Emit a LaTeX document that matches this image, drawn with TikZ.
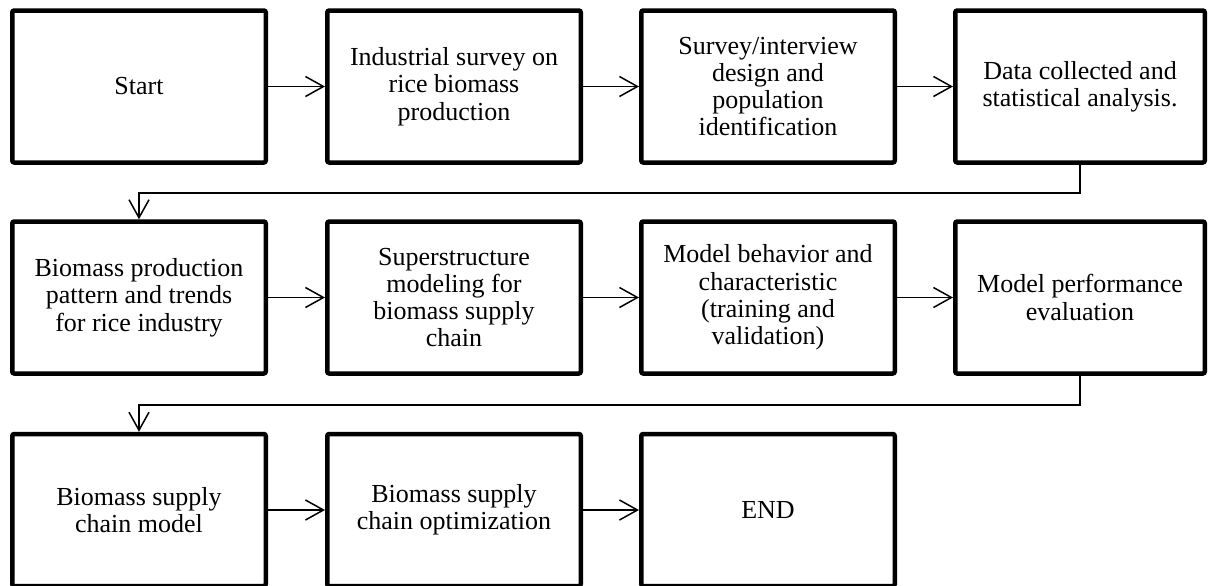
\documentclass[tikz,border=0pt]{standalone}
\usepackage{fontspec}
\setmainfont{Liberation Serif}
\usetikzlibrary{arrows.meta}
\begin{document}
\begin{tikzpicture}[x=0.5pt,y=-0.5pt,
 box/.style={draw,line width=2.25pt,rounded corners=1pt,minimum width=126.75pt,minimum height=76pt,align=center,inner sep=0pt,font=\fontsize{13}{13.65}\selectfont},
 conn/.style={line width=0.75pt,-{Straight Barb[length=9pt,width=10pt,line width=0.75pt]}}]
\useasboundingbox (0,0) rectangle (1208,585);
% row 1
\node[box] (a1) at (139,86.5) {Start};
\node[box] (a2) at (454,86.5) {Industrial survey on\\rice biomass\\production};
\node[box] (a3) at (768,86.5) {Survey/interview\\design and\\population\\identification};
\node[box,minimum width=124.75pt] (a4) at (1080,86.5) {Data collected and\\statistical analysis.};
% row 2
\node[box] (b1) at (139,297.5) {Biomass production\\pattern and trends\\for rice industry};
\node[box] (b2) at (454,297.5) {Superstructure\\modeling for\\biomass supply\\chain};
\node[box] (b3) at (768,297.5) {Model behavior and\\characteristic\\(training and\\validation)};
\node[box,minimum width=124.75pt] (b4) at (1080,297.5) {Model performance\\evaluation};
% row 3
\node[box] (c1) at (139,510) {Biomass supply\\chain model};
\node[box] (c2) at (454,510) {Biomass supply\\chain optimization};
\node[box] (c3) at (768,510) {END};
% horizontal connectors
\draw[conn] (a1) -- (a2);
\draw[conn] (a2) -- (a3);
\draw[conn] (a3) -- (a4);
\draw[conn] (b1) -- (b2);
\draw[conn] (b2) -- (b3);
\draw[conn] (b3) -- (b4);
\draw[conn] (c1) -- (c2);
\draw[conn] (c2) -- (c3);
% return connectors
\coordinate (t1) at (139,193);
\coordinate (t2) at (139,405);
\draw[conn] (a4.south) |- (t1) -- (b1.north);
\draw[conn] (b4.south) |- (t2) -- (c1.north);
\end{tikzpicture}
\end{document}
